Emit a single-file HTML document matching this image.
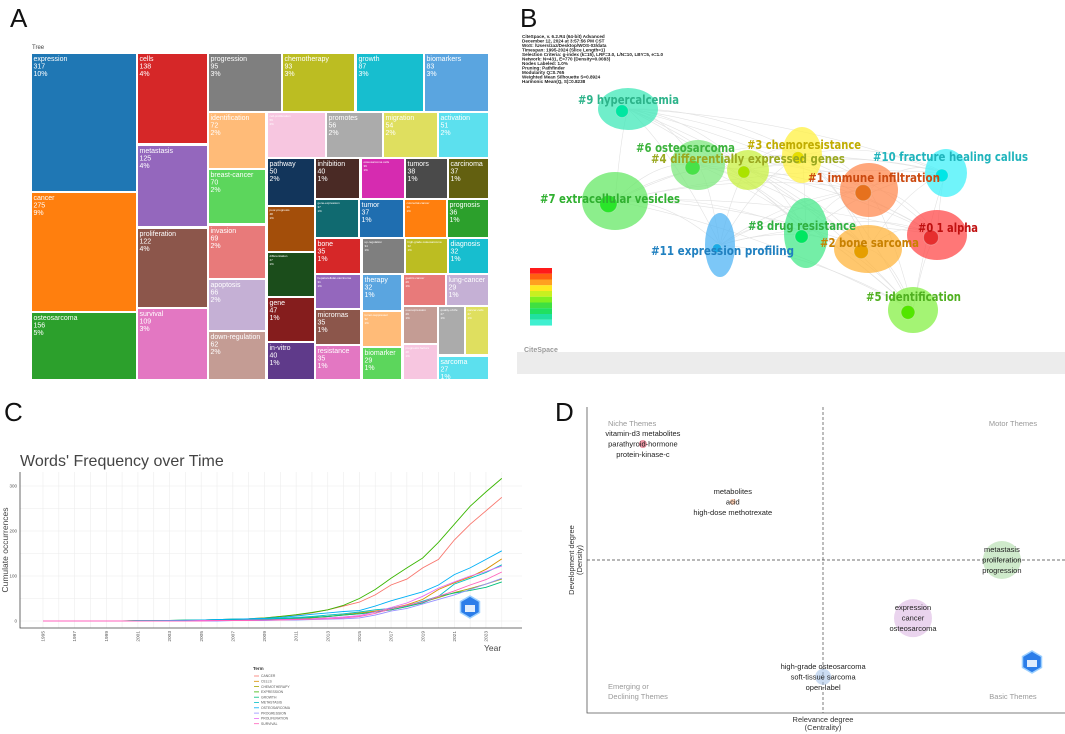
<!DOCTYPE html>
<html><head><meta charset="utf-8"><style>
html,body{margin:0;padding:0;background:#fff;}
svg{display:block;font-family:"Liberation Sans",Arial,sans-serif;}
</style></head><body>
<svg id="fig" width="1065" height="734" viewBox="0 0 1065 734" xmlns="http://www.w3.org/2000/svg">
<text x="10" y="27" font-size="26" fill="#111">A</text>
<text x="520" y="27" font-size="26" fill="#111">B</text>
<text x="4" y="421" font-size="26" fill="#111">C</text>
<text x="555" y="421" font-size="26" fill="#111">D</text>
<text x="32" y="49" font-size="6" fill="#444">Tree</text>
<g id="treemap"></g>
<g id="network"></g>
<g id="linechart"></g>
<g id="thematic"></g>
</svg>
<script>
// ===== Treemap data =====
const tmNames=["expression","cancer","osteosarcoma","cells","metastasis","proliferation","survival","progression","chemotherapy","growth","biomarkers","identification","breast-cancer","invasion","apoptosis","down-regulation","cell-proliferation","promotes","migration","activation","pathway","poor-prognosis","differentiation","gene","in-vitro","inhibition","osteosarcoma cells","tumors","carcinoma","gene-expression","tumor","colorectal-cancer","prognosis","bone","up-regulation","high-grade osteosarcoma","diagnosis","hepatocellular-carcinoma","micrornas","resistance","therapy","tumor-suppressor","biomarker","gastric-cancer","lung-cancer","overexpression","prognostic factors","quality-of-life","cancer-cells","sarcoma"];
const tmValues=[317,275,156,138,125,122,109,95,93,87,83,72,70,69,66,62,59,56,54,51,50,48,47,47,40,40,39,38,37,37,37,36,36,35,34,32,32,31,35,35,32,32,29,29,29,29,28,27,27,27];
const tmPct=["10%","9%","5%","4%","4%","4%","3%","3%","3%","3%","3%","2%","2%","2%","2%","2%","2%","2%","2%","2%","2%","1%","1%","1%","1%","1%","1%","1%","1%","1%","1%","1%","1%","1%","1%","1%","1%","1%","1%","1%","1%","1%","1%","1%","1%","1%","1%","1%","1%","1%"];
const tmColors=["#1f77b4","#ff7f0e","#2ca02c","#d62728","#9467bd","#8c564b","#e377c2","#7f7f7f","#bcbd22","#17becf","#5aa5e0","#ffbb78","#5cd65c","#e87a7a","#c5b0d5","#c49c94","#f7c6e0","#ababab","#dfdf5f","#5ce0ee","#12355b","#a34e0a","#1b4d1b","#851d1d","#5f3a8a","#4a2a25","#d62bb0","#4a4a4a","#636010","#106a70","#1f6eb0","#ff7f0e","#2ca02c","#d62728","#7f7f7f","#bcbd22","#17becf","#9467bd","#8c564b","#e377c2","#5aa5e0","#ffbb78","#5cd65c","#e87a7a","#c5b0d5","#c49c94","#f7c6e0","#ababab","#dfdf5f","#5ce0ee"];
const tmBoxes=[[32,136,54,191],[32,136,193,311],[32,136,313,379],[138,207,54,143],[138,207,146,226],[138,207,229,307],[138,207,309,379],[209,281,54,111],[283,354,54,111],[357,423,54,111],[425,488,54,111],[209,265,113,168],[209,265,170,223],[209,265,226,278],[209,265,280,330],[209,265,332,379],[268,325,113,157],[327,382,113,157],[384,437,113,157],[439,488,113,157],[268,314,159,205],[268,314,207,251],[268,314,253,296],[268,314,298,341],[268,314,343,379],[316,359,159,198],[362,404,159,198],[406,447,159,198],[449,488,159,198],[316,358,200,237],[360,403,200,237],[405,446,200,237],[448,488,200,237],[316,360,239,273],[363,404,239,273],[406,447,239,273],[449,488,239,273],[316,360,275,308],[316,360,310,344],[316,360,346,379],[363,401,275,310],[363,401,312,346],[363,401,348,379],[404,445,275,305],[447,488,275,305],[404,437,307,343],[404,437,345,379],[439,464,307,354],[466,488,307,354],[439,488,357,379]];
const tm=document.getElementById('treemap');
const NS="http://www.w3.org/2000/svg";
for(let i=0;i<tmNames.length;i++){
  const b=tmBoxes[i];
  const r=document.createElementNS(NS,'rect');
  
  
  r.setAttribute('x',b[0]);r.setAttribute('y',b[2]);r.setAttribute('width',b[1]-b[0]);r.setAttribute('height',b[3]-b[2]);
  r.setAttribute('fill',tmColors[i]);
  tm.appendChild(r);
  const w=b[1]-b[0];
  const small=tmNames[i].length*3.4>w-2;
  const fs=small?3:7;
  const lines=[tmNames[i],String(tmValues[i]),tmPct[i]];
  for(let k=0;k<3;k++){
    const t=document.createElementNS(NS,'text');
    
    
    t.setAttribute('x',b[0]+1.5);
    t.setAttribute('y',b[2]+(small?4+k*4:7+k*7.5));
    t.setAttribute('font-size',fs);t.setAttribute('fill','#fff');
    t.textContent=lines[k];
    tm.appendChild(t);
  }
}

// ===== Network (panel B) =====
const clLabels=["#9 hypercalcemia","#6 osteosarcoma","#4 differentially expressed genes","#3 chemoresistance","#10 fracture healing callus","#1 immune infiltration","#7 extracellular vesicles","#8 drug resistance","#0 1 alpha","#2 bone sarcoma","#11 expression profiling","#5 identification"];
const clBlob=["#40e8b8","#7ee87e","#c8f040","#fff040","#40f0f8","#ff8a50","#66e866","#46e88a","#ff4a4a","#ffb43c","#50b4f4","#86f046"];
const clText=["#2db38a","#3cb33c","#9aa820","#c0ac00","#20b4bc","#cc4a10","#30b030","#30b040","#c01010","#c88000","#2080c0","#50b020"];
const clCx=[628,698,748,802,946,869,615,806,937,868,720,913];
const clCy=[109,165,170,155,173,190,201,233,235,249,245,310];
const clRx=[30,27,21,20,21,29,33,22,30,34,15,25];
const clRy=[21,25,20,28,24,27,29,35,25,24,32,23];
const lblX=[578,636,651,747,873,808,540,748,918,820,651,866];
const lblY=[104,152,163,149,161,182,203,230,232,247,255,301];
const lblLen=[101,99,194,114,155,132,140,108,60,99,143,95];
const netLegend=["#ff1a1a","#ff6010","#ffa020","#ffe820","#c8f020","#80f020","#40e040","#20e060","#20e0a0","#40f0d0"];
const net=document.getElementById('network');
const headerLines=["CiteSpace, v. 6.2.R4 (64-bit) Advanced","December 12, 2024 at 3:57:56 PM CST","WoS: /Users/zaz/Desktop/WOS-03/data","Timespan: 1995-2024 (Slice Length=1)","Selection Criteria: g-index (k=15), LRF=3.0, L/N=10, LBY=5, e=1.0","Network: N=431, E=770 (Density=0.0083)","Nodes Labeled: 1.0%","Pruning: Pathfinder","Modularity Q=0.765","Weighted Mean Silhouette S=0.8924","Harmonic Mean(Q, S)=0.8238"];
for(let i=0;i<headerLines.length;i++){
  const t=document.createElementNS(NS,'text');
  
  
  t.setAttribute('x',522);t.setAttribute('y',38+i*4.5);t.setAttribute('font-size','4.6');t.setAttribute('font-weight','bold');t.setAttribute('fill','#222');
  t.textContent=headerLines[i];
  net.appendChild(t);
}
for(let i=0;i<clCx.length;i++){for(let j=i+1;j<clCx.length;j++){
  const p=document.createElementNS(NS,'path');
  
  
  const mx=(clCx[i]+clCx[j])/2, my=(clCy[i]+clCy[j])/2-25;
  p.setAttribute('d',`M${clCx[i]},${clCy[i]} Q${mx},${my} ${clCx[j]},${clCy[j]}`);
  p.setAttribute('fill','none');p.setAttribute('stroke','#e2e2e2');p.setAttribute('stroke-width','0.6');
  net.appendChild(p);
}}
for(let i=0;i<clCx.length;i++){
  const e=document.createElementNS(NS,'ellipse');
  
  
  e.setAttribute('cx',clCx[i]);e.setAttribute('cy',clCy[i]);e.setAttribute('rx',clRx[i]);e.setAttribute('ry',clRy[i]);
  e.setAttribute('fill',clBlob[i]);e.setAttribute('opacity','0.75');
  net.appendChild(e);
  const c=document.createElementNS(NS,'circle');
  
  
  c.setAttribute('cx',clCx[i]-clRx[i]*0.2);c.setAttribute('cy',clCy[i]+clRy[i]*0.1);c.setAttribute('r',Math.min(clRx[i],clRy[i])*0.3);
  c.setAttribute('fill',clBlob[i]);c.setAttribute('stroke','#fff');c.setAttribute('stroke-opacity','0.3');
  c.setAttribute('style','filter:saturate(1.6) brightness(0.9)');
  net.appendChild(c);
}
for(let i=0;i<clLabels.length;i++){
  const t=document.createElementNS(NS,'text');
  
  
  t.setAttribute('x',lblX[i]);t.setAttribute('y',lblY[i]);t.setAttribute('font-size','12.5');t.setAttribute('font-weight','bold');
  t.setAttribute('font-family','"DejaVu Sans",sans-serif');
  t.setAttribute('textLength',lblLen[i]);t.setAttribute('lengthAdjust','spacingAndGlyphs');
  t.setAttribute('fill',clText[i]);
  t.textContent=clLabels[i];
  net.appendChild(t);
}
for(let i=0;i<netLegend.length;i++){
  const r=document.createElementNS(NS,'rect');
  
  
  r.setAttribute('x',530);r.setAttribute('y',268+i*5.75);r.setAttribute('width',22);r.setAttribute('height',5.8);r.setAttribute('fill',netLegend[i]);
  net.appendChild(r);
}
(function(){
  const r=document.createElementNS(NS,'rect');
  
  
  r.setAttribute('x',517);r.setAttribute('y',352);r.setAttribute('width',548);r.setAttribute('height',22);r.setAttribute('fill','#ececec');
  net.appendChild(r);
  const t=document.createElementNS(NS,'text');
  
  
  t.setAttribute('x',524);t.setAttribute('y',352);t.setAttribute('font-size','7');t.setAttribute('font-weight','bold');t.setAttribute('fill','#999');
  t.textContent='CiteSpace';
  net.appendChild(t);
})();

// ===== Line chart (panel C) =====
const years=[1995,1996,1997,1998,1999,2000,2001,2002,2003,2004,2005,2006,2007,2008,2009,2010,2011,2012,2013,2014,2015,2016,2017,2018,2019,2020,2021,2022,2023,2024];
const terms=["CANCER","CELLS","CHEMOTHERAPY","EXPRESSION","GROWTH","METASTASIS","OSTEOSARCOMA","PROGRESSION","PROLIFERATION","SURVIVAL"];
const termColors=["#F8766D","#D89000","#A3A500","#39B600","#00BF7D","#00BFC4","#00B0F6","#9590FF","#E76BF3","#FF62BC"];
const sCancer=[0,0,0,0,0,0,0,1,1,1,2,3,4,5,7,10,13,18,25,33,42,58,80,93,118,137,180,215,245,275];
const sCells=[0,0,0,0,0,0,0,0,0,1,1,1,2,2,3,4,6,8,10,14,18,22,28,36,48,70,85,98,115,138];
const sChemo=[0,0,0,0,0,0,0,0,0,1,1,1,2,2,3,4,5,7,10,13,16,20,25,32,42,52,63,72,82,93];
const sExpression=[0,0,0,0,0,0,1,1,1,2,2,3,4,5,7,10,14,19,25,35,50,70,95,118,140,175,215,255,287,317];
const sGrowth=[0,0,0,0,0,0,0,1,1,1,2,2,3,3,4,5,6,8,10,13,16,20,25,32,40,55,62,68,75,87];
const sMetastasis=[0,0,0,0,0,0,1,1,1,2,2,3,4,4,5,6,8,10,13,16,20,25,28,34,44,55,82,95,108,125];
const sOsteo=[0,0,0,0,0,0,0,0,1,1,2,3,4,5,6,8,11,15,18,21,23,33,45,55,65,80,103,118,137,156];
const sProgression=[0,0,0,0,0,0,0,0,0,0,0,0,1,1,1,2,2,3,4,5,7,13,22,28,38,48,58,70,82,95];
const sProlif=[0,0,0,0,0,0,0,0,0,0,1,1,1,2,2,3,4,5,7,9,12,20,30,40,55,73,87,100,110,122];
const sSurvival=[0,0,0,0,0,0,0,0,0,0,0,1,1,1,2,2,3,4,5,7,10,17,27,35,42,55,67,80,92,109];
const seriesAll=[sCancer,sCells,sChemo,sExpression,sGrowth,sMetastasis,sOsteo,sProgression,sProlif,sSurvival];
const yTicks=[0,100,200,300];
const xTickYears=[1995,1997,1999,2001,2003,2005,2007,2009,2011,2013,2015,2017,2019,2021,2023];
const lc=document.getElementById('linechart');
const xS=y=>43+(y-1995)*15.82;
const yS=v=>621-v*0.45;
function el(tag,attrs,parent){const e=document.createElementNS(NS,tag);for(const k in attrs)e.setAttribute(k,attrs[k]);parent.appendChild(e);return e;}
let tt=el('text',{x:20,y:466,'font-size':16,fill:'#444'},lc);tt.textContent="Words' Frequency over Time";


for(let y=1995;y<=2024;y++){
  const g=el('line',{x1:xS(y),x2:xS(y),y1:472,y2:628,stroke:'#ececec','stroke-width':0.6},lc);
  
  
}
for(let v=0;v<=325;v+=50){
  const g=el('line',{x1:20,x2:522,y1:yS(v),y2:yS(v),stroke:'#ececec','stroke-width':0.6},lc);
  
  
}
let ax=el('path',{d:'M20,472 V628 H522',fill:'none',stroke:'#444','stroke-width':0.8},lc);


for(const v of yTicks){
  const t=el('text',{x:17,y:yS(v)+1.5,'font-size':4.5,fill:'#555','text-anchor':'end'},lc);t.textContent=v;
  
  
}
for(const y of xTickYears){
  const t=el('text',{x:0,y:0,'font-size':4.8,fill:'#555','text-anchor':'end',transform:`translate(${xS(y)+1.6},631) rotate(-90)`},lc);t.textContent=y;
  
  
}
let yl=el('text',{x:0,y:0,'font-size':8.5,fill:'#444','text-anchor':'middle',transform:'translate(8,550) rotate(-90)'},lc);yl.textContent='Cumulate occurrences';


let xl=el('text',{x:484,y:651,'font-size':8.5,fill:'#444'},lc);xl.textContent='Year';


for(let s=0;s<seriesAll.length;s++){
  const d=seriesAll[s].map((v,i)=>(i?'L':'M')+xS(years[i]).toFixed(1)+','+yS(v).toFixed(1)).join(' ');
  const p=el('path',{d:d,fill:'none',stroke:termColors[s],'stroke-width':0.9},lc);
  
  
}
let lt=el('text',{x:253,y:670,'font-size':4.5,'font-weight':'bold',fill:'#333'},lc);lt.textContent='Term';


for(let s=0;s<terms.length;s++){
  const yy=676+s*5.3;
  const l=el('line',{x1:254,x2:259,y1:yy,y2:yy,stroke:termColors[s],'stroke-width':0.8},lc);
  
  
  const t=el('text',{x:261,y:yy+1.2,'font-size':3.4,fill:'#555'},lc);t.textContent=terms[s];
  
  
}
function badge(cx,cy,parent,name){
  const pts=[];for(let k=0;k<6;k++){const a=Math.PI/6+k*Math.PI/3;pts.push((cx+11*Math.cos(a)).toFixed(1)+','+(cy+11*Math.sin(a)).toFixed(1));}
  const h=el('polygon',{points:pts.join(' '),fill:'#2b7de9',stroke:'#9cd0ff','stroke-width':1.5},parent);
  
  
  const r=el('rect',{x:cx-5,y:cy-2,width:10,height:7,fill:'#fff',opacity:0.85},parent);
  
  
}
badge(470,607,lc,'watermark-badge-c');

// ===== Thematic map (panel D) =====
const thLabels=[["vitamin-d3 metabolites","parathyroid-hormone","protein-kinase-c"],["metabolites","acid","high-dose methotrexate"],["metastasis","proliferation","progression"],["expression","cancer","osteosarcoma"],["high-grade osteosarcoma","soft-tissue sarcoma","open-label"]];
const thCentrality=[0.117,0.305,0.868,0.682,0.494];
const thDensity=[0.879,0.69,0.5,0.31,0.118];
const thSize=[4,3,19,19,8];
const thColors=["#e0405a","#f0a070","#a8d8a0","#d8b0e0","#a0c0e8"];
const th=document.getElementById('thematic');
const dx=v=>587+v*(1065-587);
const dy=v=>713-v*306;
let dax=el('path',{d:'M587,407 V713 H1065',fill:'none',stroke:'#555','stroke-width':0.8},th);


let vd=el('line',{x1:823,x2:823,y1:407,y2:713,stroke:'#444','stroke-width':0.7,'stroke-dasharray':'3,2'},th);


let hd=el('line',{x1:587,x2:1065,y1:560,y2:560,stroke:'#444','stroke-width':0.7,'stroke-dasharray':'3,2'},th);


for(let i=0;i<thLabels.length;i++){
  const cx=dx(thCentrality[i]), cy=dy(thDensity[i]);
  const c=el('circle',{cx:cx,cy:cy,r:thSize[i],fill:thColors[i],opacity:0.55},th);
  
  
  for(let k=0;k<3;k++){
    const t=el('text',{x:cx,y:cy+(k-1)*10.6+2.5,'font-size':7.5,fill:'#222','text-anchor':'middle'},th);t.textContent=thLabels[i][k];
    
    
  }
}
const quadText=[["Niche Themes",608,426,"start"],["Motor Themes",1013,426,"middle"],["Emerging or",608,689,"start"],["Declining Themes",608,699,"start"],["Basic Themes",1013,699,"middle"]];
for(const q of quadText){
  const t=el('text',{x:q[1],y:q[2],'font-size':7.5,fill:'#999','text-anchor':q[3]},th);t.textContent=q[0];
  
  
}
let rx1=el('text',{x:823,y:722,'font-size':7.5,fill:'#333','text-anchor':'middle'},th);rx1.textContent='Relevance degree';


let rx2=el('text',{x:823,y:730,'font-size':7.5,fill:'#333','text-anchor':'middle'},th);rx2.textContent='(Centrality)';


let dy1=el('text',{x:0,y:0,'font-size':7.5,fill:'#333','text-anchor':'middle',transform:'translate(574,560) rotate(-90)'},th);dy1.textContent='Development degree';


let dy2=el('text',{x:0,y:0,'font-size':7.5,fill:'#333','text-anchor':'middle',transform:'translate(582,560) rotate(-90)'},th);dy2.textContent='(Density)';


badge(1032,662,th,'watermark-badge-d');
</script>
</body></html>
